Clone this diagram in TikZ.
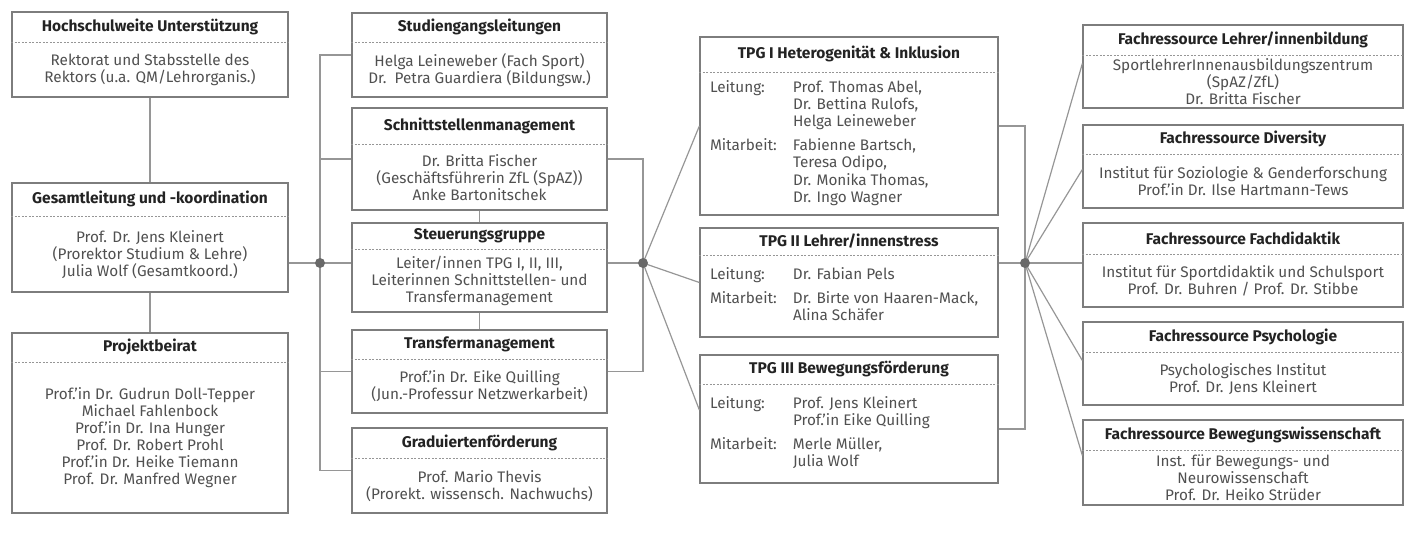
\documentclass[tikz,border=0pt]{standalone}
\usepackage{fontspec}
\setmainfont{Fira Sans}
\definecolor{boxgray}{RGB}{125,125,125}
\definecolor{linkgray}{RGB}{150,150,150}
\definecolor{dotgray}{RGB}{105,105,105}
\definecolor{titlegray}{RGB}{35,35,35}
\definecolor{bodygray}{RGB}{80,80,80}
\usetikzlibrary{fit, calc}
\tikzset{
x=1pt, y=-1pt, % pixel units, y runs downwards
box/.style={draw=boxgray, line width=1.3pt, inner sep=0pt}, % frame of each unit
boxtitle/.style={font=\fontsize{15.5}{17}\selectfont\bfseries, text=titlegray, inner sep=0pt}, % bold heading
boxbody/.style={font=\fontsize{15.3}{17}\selectfont, text=bodygray, align=center, inner sep=0pt}, % names below the heading
sepline/.style={draw=linkgray, line width=0.8pt, dash pattern=on 2pt off 1.5pt}, % dotted line under the heading
link/.style={draw=linkgray, line width=1.2pt}, % connectors
}
% box: [separator offset]{name}{top left}{bottom right}{title}{body}
\newcommand{\orgbox}[6][31pt]{%
  \node[box, fit={#3 #4}] (#2) {};
  \coordinate (#2-s) at ([yshift=-#1]#2.north);
  \node[boxtitle] (#2-t) at ($(#2.north)!0.5!(#2-s)$) {#5};
  \draw[sepline] (#2-s -| #2.west) -- (#2-s -| #2.east);
  \node[boxbody] (#2-b) at ($(#2-s)!0.5!(#2.south)$) {#6};
}
\newcommand{\tpgbody}[1]{\makebox[278pt][l]{\begin{tabular}{@{}p{83pt}@{}l@{}}#1\end{tabular}}}

\begin{document}
\begin{tikzpicture}
      \useasboundingbox (0,0) rectangle (1408,533);

      % left column
      \orgbox{hoch}{(12,12)}{(288,97)}{Hochschulweite Unterstützung}
        {Rektorat und Stabsstelle des\\Rektors (u.a. QM/Lehrorganis.)}
      \orgbox[34pt]{gesamt}{(12,183)}{(288,292)}{Gesamtleitung und -koordination}
        {Prof. Dr. Jens Kleinert\\(Prorektor Studium \& Lehre)\\Julia Wolf (Gesamtkoord.)}
      \orgbox[30pt]{beirat}{(12,333)}{(288,513)}{Projektbeirat}
        {Prof.’in Dr. Gudrun Doll-Tepper\\Michael Fahlenbock\\Prof.’in Dr. Ina Hunger\\Prof. Dr. Robert Prohl\\Prof.’in Dr. Heike Tiemann\\Prof. Dr. Manfred Wegner}

      % second column
      \orgbox[30pt]{studien}{(352,13)}{(607,97)}{Studiengangsleitungen}
        {Helga Leineweber (Fach Sport)\\Dr.\ \ Petra Guardiera (Bildungsw.)}
      \orgbox[37pt]{schnitt}{(352,108)}{(607,210)}{Schnittstellenmanagement}
        {Dr. Britta Fischer\\(Geschäftsführerin ZfL (SpAZ))\\Anke Bartonitschek}
      \orgbox[27pt]{steuer}{(352,223)}{(607,312)}{Steuerungsgruppe}
        {Leiter/innen TPG I, II, III,\\Leiterinnen Schnittstellen- und\\Transfermanagement}
      \orgbox[30pt]{transfer}{(352,330)}{(607,413)}{Transfermanagement}
        {Prof.’in Dr. Eike Quilling\\(Jun.-Professur Netzwerkarbeit)}
      \orgbox{grad}{(352,428)}{(607,513)}{Graduiertenförderung}
        {Prof. Mario Thevis\\(Prorekt. wissensch. Nachwuchs)}

      % third column
      \orgbox[36pt]{tpgi}{(700,37)}{(998,215)}{TPG I Heterogenität \& Inklusion}
        {\tpgbody{Leitung: & Prof. Thomas Abel,\\ & Dr. Bettina Rulofs,\\ & Helga Leineweber\\[7pt]
          Mitarbeit: & Fabienne Bartsch,\\ & Teresa Odipo,\\ & Dr. Monika Thomas,\\ & Dr. Ingo Wagner}}
      \orgbox[28pt]{tpgii}{(700,228)}{(998,337)}{TPG II Lehrer/innenstress}
        {\tpgbody{Leitung: & Dr. Fabian Pels\\[7pt]
          Mitarbeit: & Dr. Birte von Haaren-Mack,\\ & Alina Schäfer}}
      \orgbox[30pt]{tpgiii}{(700,355)}{(998,483)}{TPG III Bewegungsförderung}
        {\tpgbody{Leitung: & Prof. Jens Kleinert\\ & Prof.’in Eike Quilling\\[7pt]
          Mitarbeit: & Merle Müller,\\ & Julia Wolf}}

      % right column
      \orgbox{frlehrer}{(1083,25)}{(1403,108)}{Fachressource Lehrer/innenbildung}
        {SportlehrerInnenausbildungszentrum\\(SpAZ/ZfL)\\Dr. Britta Fischer}
      \orgbox[30pt]{frdiv}{(1083,125)}{(1403,208)}{Fachressource Diversity}
        {Institut für Soziologie \& Genderforschung\\Prof.’in Dr. Ilse Hartmann-Tews}
      \orgbox[32pt]{frdidaktik}{(1083,223)}{(1403,307)}{Fachressource Fachdidaktik}
        {Institut für Sportdidaktik und Schulsport\\Prof. Dr. Buhren / Prof. Dr. Stibbe}
      \orgbox{frpsych}{(1083,322)}{(1403,405)}{Fachressource Psychologie}
        {Psychologisches Institut\\Prof. Dr. Jens Kleinert}
      \orgbox{frbew}{(1083,420)}{(1403,505)}{Fachressource Bewegungswissenschaft}
        {Inst. für Bewegungs- und\\Neurowissenschaft\\Prof. Dr. Heiko Strüder}

      % hubs
      \coordinate (hubl) at (320,263);
      \coordinate (hubm) at (643,263);
      \coordinate (hubr) at (1025,263);

      \draw[link] (hoch) -- (gesamt);
      \draw[link] (gesamt) -- (beirat);
      \draw[link] (hubl -| gesamt.east) -- (hubl);
      \draw[link] (studien.west) -| (hubl) |- (grad.west);
      \draw[link] (schnitt.west) -| (hubl);
      \draw[link] (transfer.west) -| (hubl);
      \draw[link] (hubl) -- (hubl -| steuer.west);
      \draw[link] (schnitt) -- (steuer);
      \draw[link] (steuer) -- (transfer);
      \draw[link] (schnitt.east) -| (hubm) |- (transfer.east);
      \draw[link] (hubm -| steuer.east) -- (hubm);
      \draw[link] (hubm) -- (tpgi.west);
      \draw[link] (hubm) -- (tpgii.west);
      \draw[link] (hubm) -- ([yshift=9pt]tpgiii.west);
      \draw[link] (tpgi.east) -| (hubr) |- ([yshift=-10pt]tpgiii.east);
      \draw[link] (hubr -| tpgii.east) -- (hubr);
      \draw[link] (hubr) -- ([yshift=3pt]frlehrer.west);
      \draw[link] (hubr) -- ([yshift=-3pt]frdiv.west);
      \draw[link] (hubr) -- (hubr -| frdidaktik.west);
      \draw[link] (hubr) -- ([yshift=3pt]frpsych.west);
      \draw[link] (hubr) -- ([yshift=7pt]frbew.west);

      \foreach \h in {hubl, hubm, hubr}
        \fill[dotgray] (\h) circle (5pt);
\end{tikzpicture}
\end{document}
